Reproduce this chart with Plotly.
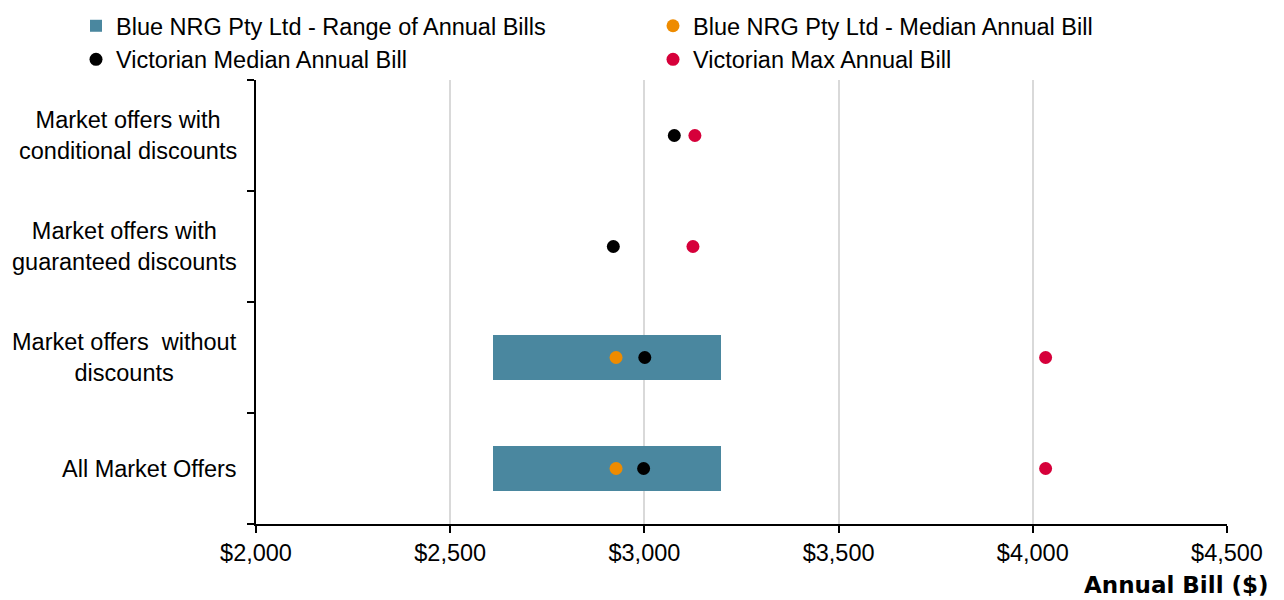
import plotly.graph_objects as go

categories = [
    "Market offers with<br>conditional discounts",
    "Market offers with<br>guaranteed discounts",
    "Market offers  without<br>discounts",
    "All Market Offers",
]
range_min = [None, None, 2610, 2610]
range_max = [None, None, 3196, 3196]
blue_median = [None, None, 2927, 2927]
vic_median = [3077, 2920, 3001, 2998]
vic_max = [3130, 3125, 4033, 4033]
x_ticks = [2000, 2500, 3000, 3500, 4000, 4500]

FONT = "Liberation Sans, Arial, sans-serif"
FS = 23.5

range_len = [None if a is None else b - a for a, b in zip(range_min, range_max)]

fig = go.Figure()
fig.add_trace(go.Bar(
    y=categories, x=range_len, base=range_min, orientation="h",
    name="Blue NRG Pty Ltd - Range of Annual Bills",
    marker=dict(color="#4A879F", line=dict(width=0)), width=0.405,
))
fig.add_trace(go.Scatter(
    y=categories, x=blue_median, mode="markers",
    name="Blue NRG Pty Ltd - Median Annual Bill",
    marker=dict(color="#EE8B00", size=13),
))
fig.add_trace(go.Scatter(
    y=categories, x=vic_median, mode="markers",
    name="Victorian Median Annual Bill",
    marker=dict(color="#000000", size=13),
))
fig.add_trace(go.Scatter(
    y=categories, x=vic_max, mode="markers",
    name="Victorian Max Annual Bill",
    marker=dict(color="#D6003A", size=13),
))

W, H = 1284, 600
L, R, T, B = 256, 57, 80, 76
pw, ph = W - L - R, H - T - B

for c in categories:
    fig.add_annotation(
        x=(239 - L) / pw, xref="paper", xanchor="right",
        y=c, yref="y", yanchor="middle",
        text=c, showarrow=False, align="center",
        font=dict(family=FONT, size=FS, color="#000"),
    )

fig.add_annotation(
    x=(1271 - L) / pw, xref="paper", xanchor="right",
    y=(H - B - 585) / ph, yref="paper", yanchor="middle",
    text="<b>Annual Bill ($)</b>", showarrow=False,
    font=dict(family="DejaVu Sans, Verdana, sans-serif", size=23, color="#000"),
)

fig.update_layout(
    width=W, height=H,
    margin=dict(l=L, r=R, t=T, b=B, autoexpand=False),
    paper_bgcolor="white", plot_bgcolor="white",
    font=dict(family=FONT, size=FS, color="#000"),
    showlegend=True,
    legend=dict(
        orientation="h", x=(76 - L) / pw, xanchor="left",
        y=(H - B - 4) / ph, yanchor="top",
        entrywidth=532, entrywidthmode="pixels",
        itemwidth=30, tracegroupgap=0,
        font=dict(family=FONT, size=FS, color="#000"),
        bgcolor="rgba(0,0,0,0)",
    ),
    bargap=0,
)
fig.update_xaxes(
    range=[2000, 4500], tickvals=x_ticks, tickformat="$,.0f",
    showgrid=True, gridcolor="#D9D9D9", gridwidth=2,
    showline=True, linecolor="#000", linewidth=2,
    ticks="outside", ticklen=7, tickcolor="#000", tickwidth=2,
    zeroline=False,
    tickfont=dict(family=FONT, size=FS, color="#000"),
)
fig.update_yaxes(
    categoryorder="array", categoryarray=categories[::-1],
    range=[-0.5, 3.5], showticklabels=False,
    showline=True, linecolor="#000", linewidth=2,
    ticks="outside", ticklen=7, tickcolor="#000", tickwidth=2,
    tickson="boundaries", showgrid=False, zeroline=False,
)

fig.write_html(
    "out.html",
    config={"displayModeBar": False},
    post_script="document.body.style.margin='0';document.body.style.padding='0';",
)
